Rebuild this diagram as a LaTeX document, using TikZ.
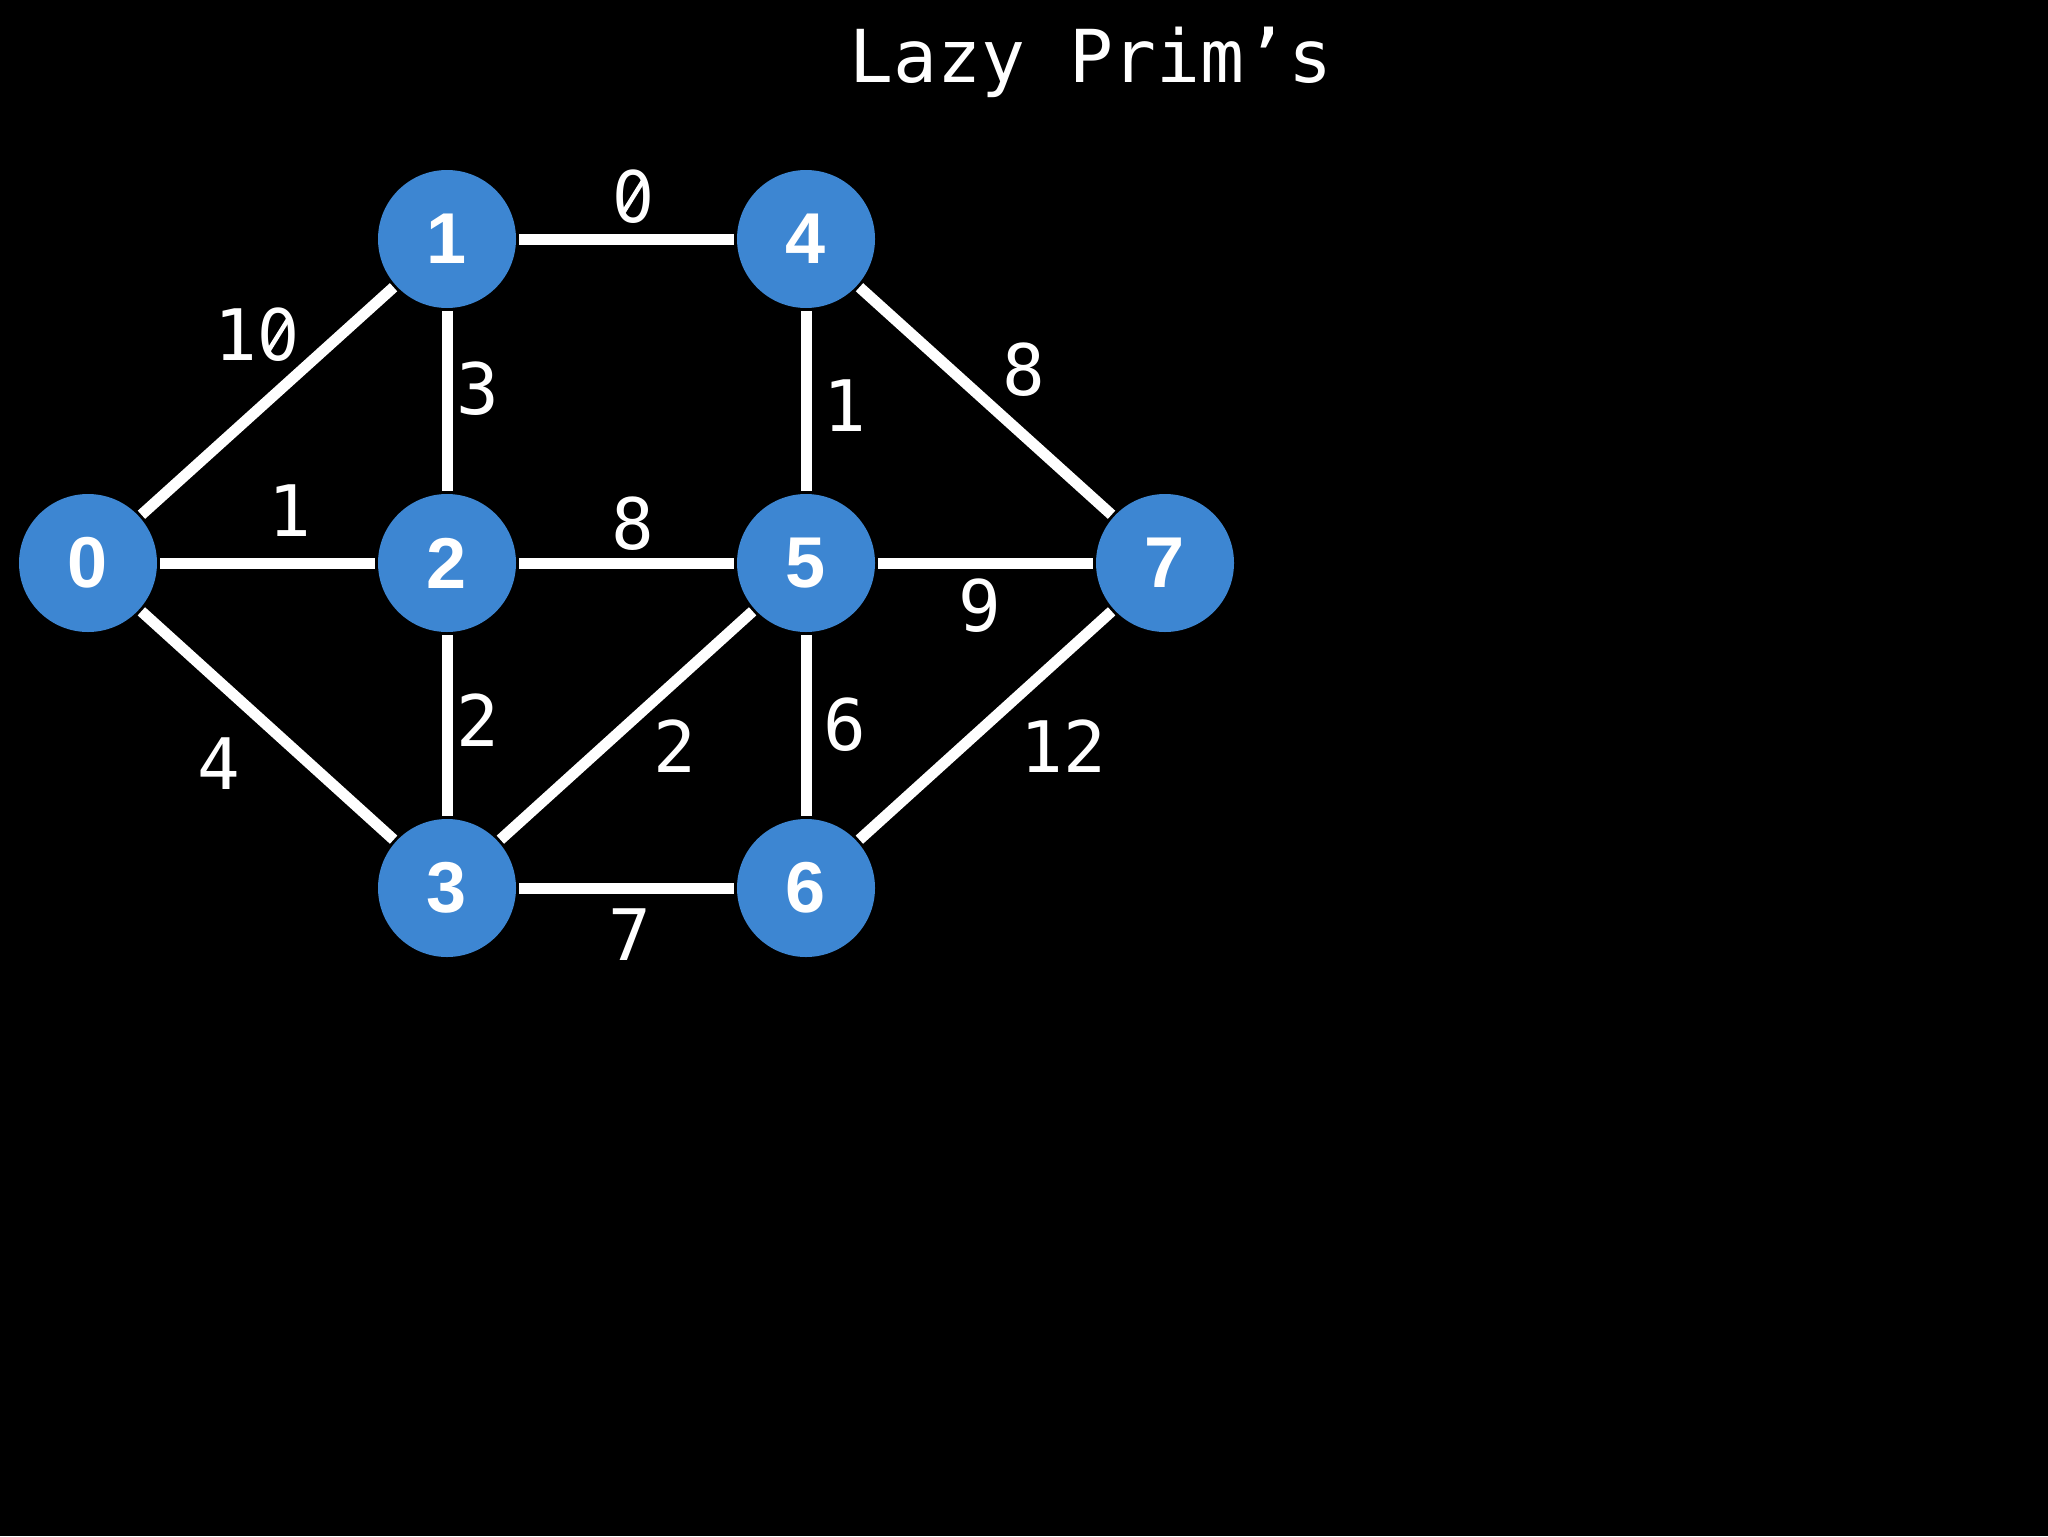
\documentclass[tikz,border=0pt]{standalone}
\usepackage{fontspec}
\usepackage{graphicx}
\newfontfamily\monof{DejaVu Sans Mono}
\newfontfamily\plainf{DejaVu Sans}
\newfontfamily\headf{Liberation Sans}
\definecolor{nodeblue}{HTML}{3D86D2}
% slashed zero, as in the reference's monospace font
\newcommand\slashbar{\raisebox{3.2pt}{\rotatebox{58}{\rule{21pt}{2.2pt}}}}
\newcommand\szero{\makebox[0.602em]{\ooalign{\hfil\scalebox{0.93}[1]{\plainf 0}\hfil\cr\hfil\slashbar\hfil\cr}}}
\begin{document}
\begin{tikzpicture}[x=0.5pt,y=-0.5pt,
  vert/.style={circle,fill=nodeblue,minimum size=69pt,inner sep=0pt,outer sep=1.5pt,
    text=white,font=\headf\bfseries\fontsize{36}{36}\selectfont},
  edge/.style={draw=white,line width=5.5pt},
  wlabel/.style={text=white,inner sep=0pt,font=\monof\fontsize{35.5}{36}\selectfont},
  title/.style={text=white,inner sep=0pt,anchor=base,font=\monof\fontsize{36.5}{37}\selectfont}]
\path[fill=black,use as bounding box] (0,0) rectangle (2048,1536);
\node[title] (ttl) at (1091,83) {Lazy Prim’s};
\node[vert] (n0) at (88,563) {0};
\node[vert] (n1) at (447,239) {1};
\node[vert] (n2) at (447,563) {2};
\node[vert] (n3) at (447,888) {3};
\node[vert] (n4) at (806,239) {4};
\node[vert] (n5) at (806,563) {5};
\node[vert] (n6) at (806,888) {6};
\node[vert] (n7) at (1165,563) {7};
\draw[edge] (n0) -- (n1);
\draw[edge] (n0) -- (n2);
\draw[edge] (n0) -- (n3);
\draw[edge] (n1) -- (n2);
\draw[edge] (n1) -- (n4);
\draw[edge] (n2) -- (n5);
\draw[edge] (n2) -- (n3);
\draw[edge] (n3) -- (n5);
\draw[edge] (n3) -- (n6);
\draw[edge] (n4) -- (n5);
\draw[edge] (n4) -- (n7);
\draw[edge,yshift=-1pt] (n5) -- (n7);
\draw[edge] (n5) -- (n6);
\draw[edge] (n6) -- (n7);
\node[wlabel] (l14) at (633,196) {\szero};
\node[wlabel] (l01) at (257,334) {1\szero};
\node[wlabel] (l12) at (478,389) {3};
\node[wlabel] (l02) at (290,511) {1};
\node[wlabel] (l25) at (633,524) {8};
\node[wlabel] (l45) at (845,406) {1};
\node[wlabel] (l47) at (1024,370) {8};
\node[wlabel] (l57) at (980,606) {9};
\node[wlabel] (l23) at (478,720) {2};
\node[wlabel] (l35) at (675,746) {2};
\node[wlabel] (l56) at (845,725) {6};
\node[wlabel] (l67) at (1063,746) {12};
\node[wlabel] (l03) at (219,764) {4};
\node[wlabel] (l36) at (630,935) {7};
\end{tikzpicture}
\end{document}
